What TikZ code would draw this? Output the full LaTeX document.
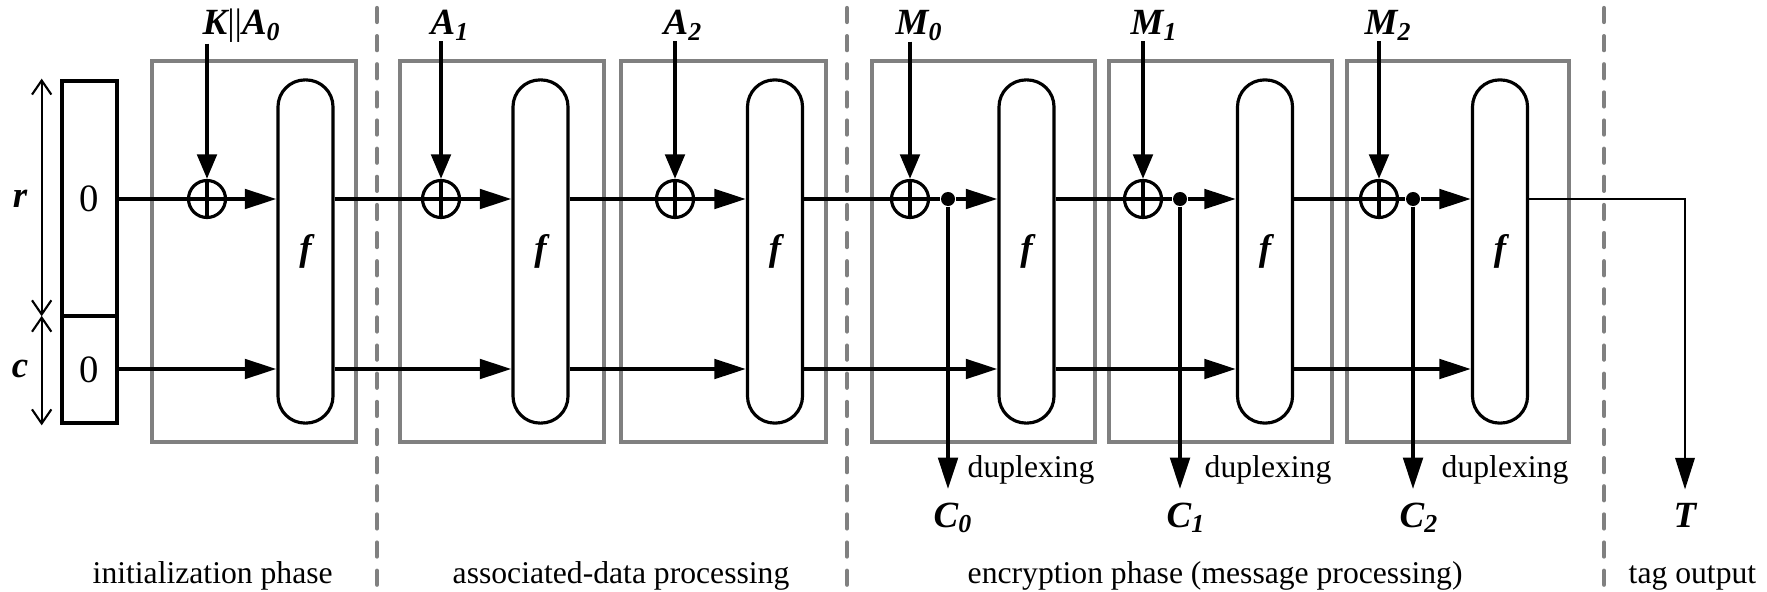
\documentclass[tikz,border=0pt]{standalone}
\usepackage{fontspec}
\setmainfont{Liberation Serif}
\usetikzlibrary{arrows.meta,calc}
\definecolor{stagegray}{RGB}{128,128,128}

\begin{document}
\begin{tikzpicture}[x=0.01cm,y=-0.01cm,
  wire/.style={line width=1.2pt},
  sig/.style={line width=1.2pt,-{Triangle[length=9pt,width=5.5pt]}},
  feed/.style={line width=1.2pt,-{Triangle[length=7pt,width=5.5pt]}},
  lbl/.style={font=\fontsize{10.5}{12}\selectfont\bfseries\itshape,inner sep=0},
  txt/.style={font=\fontsize{9}{11}\selectfont,inner sep=0},
  stage/.style={draw=stagegray,line width=1.1pt},
  phasesep/.style={draw=stagegray,line width=1.2pt,line cap=round,dash pattern=on 4pt off 4pt},
  fbox/.style={draw,line width=0.9pt,rounded corners=2.7mm,minimum width=5.5mm,minimum height=34.3mm,inner sep=0,font=\fontsize{10.5}{12}\selectfont\bfseries\itshape},
  statebox/.style={draw,line width=1.3pt,minimum width=5.5mm,inner sep=0,font=\fontsize{11}{13}\selectfont},
  xorgate/.style={circle,draw,line width=0.9pt,minimum size=3.7mm,inner sep=0,
    path picture={\draw[line width=0.9pt] (path picture bounding box.north) -- (path picture bounding box.south)
      (path picture bounding box.west) -- (path picture bounding box.east);}},
  tap/.style={circle,fill,minimum size=1.4mm,inner sep=0},
  dim/.style={line width=0.6pt,{Straight Barb[length=4pt,width=5.5pt]}-{Straight Barb[length=4pt,width=5.5pt]}}
]
\useasboundingbox (0,0) rectangle (1767,591);

% Phase separators
\foreach \x in {377,847,1604}
  \draw[phasesep] (\x,8) -- (\x,586);

% Stage frames
\draw[stage] (152,61) rectangle (356,442);
\draw[stage] (400,61) rectangle (604,442);
\draw[stage] (621,61) rectangle (826,442);
\draw[stage] (872,61) rectangle (1095,442);
\draw[stage] (1109,61) rectangle (1332,442);
\draw[stage] (1347,61) rectangle (1569,442);

% State
\node[statebox,minimum height=23.5mm] (rpart) at (89.5,198.5) {0};
\node[statebox,minimum height=10.7mm] (cpart) at (89.5,369.5) {0};
\draw[dim] ([xshift=-1.8mm]rpart.north west) -- ([xshift=-1.8mm,yshift=0.6pt]rpart.south west);
\draw[dim] ([xshift=-1.8mm,yshift=-0.6pt]cpart.north west) -- ([xshift=-1.8mm]cpart.south west);
\node[lbl] (r) at (20,199) {r};
\node[lbl] (c) at (20,369) {c};
\coordinate (low) at (0,369);

% Permutations
\node[fbox] (f1) at (305.5,251.5) {f};
\node[fbox] (f2) at (540.5,251.5) {f};
\node[fbox] (f3) at (775,251.5) {f};
\node[fbox] (f4) at (1026.5,251.5) {f};
\node[fbox] (f5) at (1265,251.5) {f};
\node[fbox] (f6) at (1500,251.5) {f};

% XOR gates and taps
\node[xorgate] (xo1) at (207,199) {};
\node[xorgate] (xo2) at (441,199) {};
\node[xorgate] (xo3) at (675,199) {};
\node[xorgate] (xo4) at (910,199) {};
\node[xorgate] (xo5) at (1143,199) {};
\node[xorgate] (xo6) at (1379,199) {};
\node[tap] (d4) at (948,199) {};
\node[tap] (d5) at (1180,199) {};
\node[tap] (d6) at (1413,199) {};

% Inputs
\node[lbl,anchor=base west] (ka0) at (202,35) {K{\mdseries\upshape||}A\textsubscript{0}};
\node[lbl,anchor=base west] (a1) at (430,35) {A\textsubscript{1}};
\node[lbl,anchor=base west] (a2) at (663,35) {A\textsubscript{2}};
\node[lbl,anchor=base west] (m0) at (895,35) {M\textsubscript{0}};
\node[lbl,anchor=base west] (m1) at (1130,35) {M\textsubscript{1}};
\node[lbl,anchor=base west] (m2) at (1364,35) {M\textsubscript{2}};
\draw[feed] (xo1 |- ka0.south) -- (xo1);
\draw[feed] (xo2 |- a1.south) -- (xo2);
\draw[feed] (xo3 |- a2.south) -- (xo3);
\draw[feed] (xo4 |- m0.south) -- (xo4);
\draw[feed] (xo5 |- m1.south) -- (xo5);
\draw[feed] (xo6 |- m2.south) -- (xo6);

% Outputs
\node[lbl,anchor=base west] (c0) at (933,527) {C\textsubscript{0}};
\node[lbl,anchor=base west] (c1) at (1166,527) {C\textsubscript{1}};
\node[lbl,anchor=base west] (c2) at (1399,527) {C\textsubscript{2}};
\node[lbl,anchor=base] (tag) at (1685,527) {T};

% Initialization
\draw[wire] (rpart.east |- xo1) -- (xo1);
\draw[sig] (xo1) -- (xo1 -| f1.west);
\draw[sig] (cpart.east |- low) -- (f1.west |- low);

% Associated data
\draw[wire] (f1.east |- xo2) -- (xo2);
\draw[sig] (xo2) -- (xo2 -| f2.west);
\draw[sig] (f1.east |- low) -- (f2.west |- low);
\draw[wire] (f2.east |- xo3) -- (xo3);
\draw[sig] (xo3) -- (xo3 -| f3.west);
\draw[sig] (f2.east |- low) -- (f3.west |- low);

% Encryption
\draw[wire] (f3.east |- xo4) -- (xo4) -- (d4);
\draw[sig] (d4) -- (d4 -| f4.west);
\draw[sig] (f3.east |- low) -- (f4.west |- low);
\draw[sig,shorten >=3.6pt] (d4) -- (d4 |- c0.north);
\draw[wire] (f4.east |- xo5) -- (xo5) -- (d5);
\draw[sig] (d5) -- (d5 -| f5.west);
\draw[sig] (f4.east |- low) -- (f5.west |- low);
\draw[sig,shorten >=3.6pt] (d5) -- (d5 |- c1.north);
\draw[wire] (f5.east |- xo6) -- (xo6) -- (d6);
\draw[sig] (d6) -- (d6 -| f6.west);
\draw[sig] (f5.east |- low) -- (f6.west |- low);
\draw[sig,shorten >=3.6pt] (d6) -- (d6 |- c2.north);

% Tag
\draw[line width=0.7pt,-{Triangle[length=9pt,width=5.5pt]},shorten >=3.6pt] (f6.east |- xo6) -| (tag.north);

% Labels
\node[txt,anchor=base east] (dup4) at (1095,477) {duplexing};
\node[txt,anchor=base east] (dup5) at (1332,477) {duplexing};
\node[txt,anchor=base east] (dup6) at (1569,477) {duplexing};
\node[txt,anchor=base west] (ph1) at (92,583) {initialization phase};
\node[txt,anchor=base west] (ph2) at (452,583) {associated-data processing};
\node[txt,anchor=base west] (ph3) at (967,583) {encryption phase (message processing)};
\node[txt,anchor=base west] (ph4) at (1628,583) {tag output};

\end{tikzpicture}
\end{document}
